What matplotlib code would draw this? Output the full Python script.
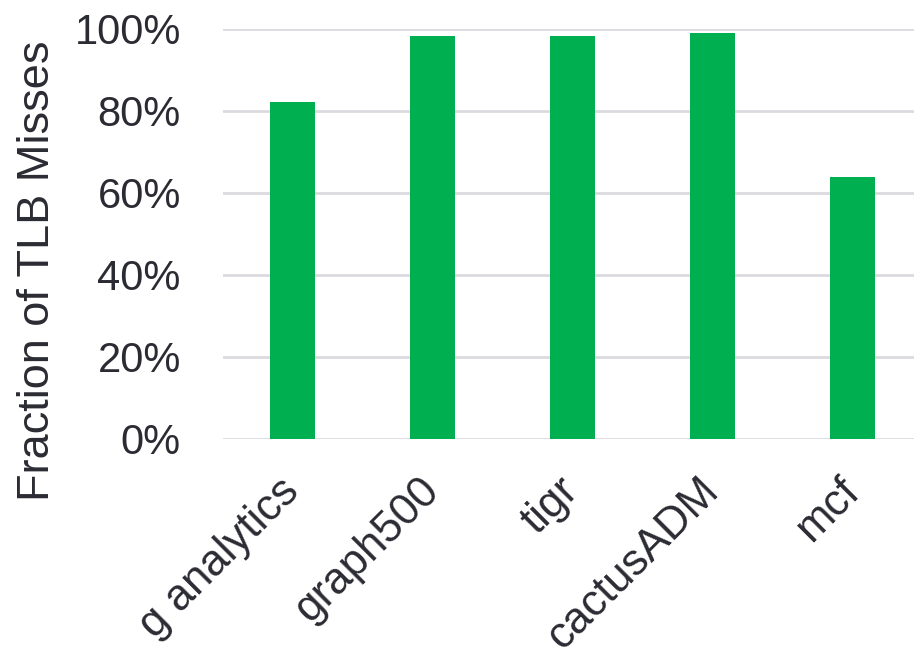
import matplotlib.pyplot as plt
from matplotlib.ticker import PercentFormatter

plt.rcParams['font.family'] = ['Liberation Sans', 'DejaVu Sans']

benchmarks = ["g analytics", "graph500", "tigr", "cactusADM", "mcf"]
tlb_miss_fraction = [82.2, 98.3, 98.3, 99.0, 63.9]
y_ticks = [0, 20, 40, 60, 80, 100]

text_color = "#2b2b33"
grid_color = "#dadae0"
bar_color = "#00b050"

fig = plt.figure(figsize=(9.14, 6.59), dpi=100)
ax = fig.add_axes([222.5 / 914, 220 / 659, 700 / 914, 410 / 659])

x = range(len(benchmarks))
ax.bar(x, tlb_miss_fraction, width=0.315, color=bar_color, zorder=3)

ax.set_xlim(-0.5, len(benchmarks) - 0.5)
ax.set_ylim(0, 100)
ax.set_yticks(y_ticks)
ax.yaxis.set_major_formatter(PercentFormatter(decimals=0))
ax.yaxis.grid(True, color=grid_color, linewidth=2, zorder=0)
ax.set_axisbelow(True)

for s in ax.spines.values():
    s.set_visible(False)
ax.tick_params(length=0, labelcolor=text_color)
ax.tick_params(axis='y', pad=30, labelsize=30)
ax.tick_params(axis='x', pad=33, labelsize=31.5)

ax.set_xticks(list(x))
ax.set_xticklabels(benchmarks, rotation=45, ha='right', va='center',
                   rotation_mode='anchor')

ax.set_ylabel("Fraction of TLB Misses", fontsize=32.5, color=text_color)
ax.yaxis.label.set_va('center')
ax.yaxis.set_label_coords(-0.2636, 0.41)

fig.savefig("out.png", dpi=100)
